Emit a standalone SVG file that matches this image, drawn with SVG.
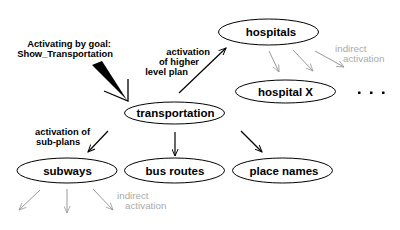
<svg xmlns="http://www.w3.org/2000/svg" width="400" height="230" viewBox="0 0 400 230">
<style>
.node ellipse{fill:#fff;stroke:#000;stroke-width:1}
.node text{font-family:"Liberation Sans",Arial,sans-serif;font-weight:bold;font-size:11.5px;text-anchor:middle;fill:#000}
.lbl{font-family:"Liberation Sans",Arial,sans-serif;font-weight:bold;font-size:9.4px;fill:#000}
.glbl{font-family:"Liberation Sans",Arial,sans-serif;font-size:9.8px;fill:#aaa}
.blk{stroke:#000;stroke-width:1.2;fill:none;marker-end:url(#ab)}
.gry{stroke:#999;stroke-width:1;fill:none;marker-end:url(#ag)}
</style>
<defs>
<marker id="ab" viewBox="0 0 10 8" refX="9" refY="4" markerWidth="8" markerHeight="7" markerUnits="userSpaceOnUse" orient="auto">
<path d="M0,0 L9,4 L0,8" fill="none" stroke="#000" stroke-width="1.2"/>
</marker>
<marker id="ag" viewBox="0 0 10 8" refX="9" refY="4" markerWidth="8" markerHeight="7" markerUnits="userSpaceOnUse" orient="auto">
<path d="M0,0 L9,4 L0,8" fill="none" stroke="#999" stroke-width="1"/>
</marker>
</defs>
<g id="connectors">
<line class="blk" x1="179" y1="93" x2="226" y2="48"/>
<line class="blk" x1="108" y1="131" x2="88" y2="152"/>
<line class="blk" x1="175" y1="132" x2="175" y2="156"/>
<line class="blk" x1="241" y1="131" x2="262" y2="152"/>
<line class="gry" x1="269" y1="51" x2="279" y2="72"/>
<line class="gry" x1="293" y1="50" x2="313" y2="71"/>
<line class="gry" x1="315" y1="51" x2="344" y2="67"/>
<line class="gry" x1="40" y1="190" x2="19" y2="210"/>
<line class="gry" x1="67" y1="189" x2="67" y2="213"/>
<line class="gry" x1="93" y1="189" x2="113" y2="210"/>
<g id="goal-arrow">
<polygon points="92,65 102,61 127,100" fill="#000"/>
<polyline points="104,91 128,101 128,79" fill="none" stroke="#000" stroke-width="1.3"/>
</g>
</g>
<g id="transportation" class="node"><ellipse cx="174.5" cy="113" rx="50" ry="11"/><text x="175.5" y="117">transportation</text></g>
<g id="hospitals" class="node"><ellipse cx="268.5" cy="32" rx="50" ry="13"/><text x="271" y="36">hospitals</text></g>
<g id="hospital-x" class="node"><ellipse cx="285.5" cy="91.5" rx="50" ry="11.5"/><text x="285.5" y="95.5">hospital X</text></g>
<g id="subways" class="node"><ellipse cx="67" cy="170.5" rx="50" ry="12.5"/><text x="67.5" y="174.5">subways</text></g>
<g id="bus-routes" class="node"><ellipse cx="174.5" cy="170.5" rx="50" ry="12.5"/><text x="175" y="174.5">bus routes</text></g>
<g id="place-names" class="node"><ellipse cx="282.5" cy="170.5" rx="50" ry="12.5"/><text x="284" y="174.5">place names</text></g>
<g id="more">
<rect x="358" y="91.5" width="2.5" height="2.5" fill="#000"/>
<rect x="370" y="91.5" width="2.5" height="2.5" fill="#000"/>
<rect x="382" y="91.5" width="2.5" height="2.5" fill="#000"/>
</g>
<g id="labels">
<text class="lbl" x="111" y="47" text-anchor="end">Activating by goal:</text>
<text class="lbl" x="113" y="57" text-anchor="end">Show_Transportation</text>
<text class="lbl" x="210" y="55" text-anchor="end">activation</text>
<text class="lbl" x="199" y="65" text-anchor="end">of higher</text>
<text class="lbl" x="188" y="75" text-anchor="end">level plan</text>
<text class="lbl" x="35" y="135">activation of</text>
<text class="lbl" x="36" y="145">sub-plans</text>
<text class="glbl" x="335" y="51.5">indirect</text>
<text class="glbl" x="343" y="61.5">activation</text>
<text class="glbl" x="117" y="198.5">indirect</text>
<text class="glbl" x="125" y="208.5">activation</text>
</g>
</svg>
